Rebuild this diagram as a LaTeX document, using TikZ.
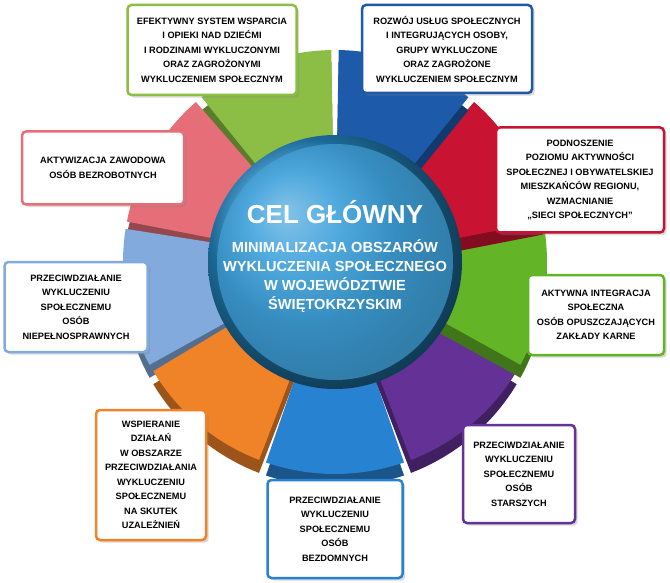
\documentclass[tikz,border=0pt]{standalone}
\usepackage{fontspec}
\setmainfont{Liberation Sans}
\usetikzlibrary{shadows,calc}
\definecolor{cgreen}{RGB}{140,190,70}
\definecolor{cblue}{RGB}{30,90,170}
\definecolor{cred}{RGB}{200,20,50}
\definecolor{cgreen2}{RGB}{100,180,40}
\definecolor{cpurple}{RGB}{100,50,150}
\definecolor{cblue2}{RGB}{40,130,210}
\definecolor{corange}{RGB}{240,130,40}
\definecolor{clblue}{RGB}{130,170,220}
\definecolor{cpink}{RGB}{230,110,120}
\definecolor{ccyan}{RGB}{40,150,215}
\begin{document}
\begin{tikzpicture}[x=1pt,y=-1pt,
  goal/.style={draw=#1,line width=2.5pt,fill=white,rounded corners=4pt,align=center,
    font=\bfseries\fontsize{9.2}{14.5}\selectfont,inner sep=3pt,drop shadow={opacity=0.3}}]
\useasboundingbox (0,0) rectangle (670,583);
\coordinate (c) at (335,262);
% sectors
\foreach \a/\col in {110/cgreen,150/cpink,190/clblue,230/corange,270/cblue2,310/cpurple,350/cgreen2,30/cred,70/cblue}{
  \fill[\col!65!black] (335,275) -- plot[domain=\a-19:\a+19,samples=20] ({335+212*cos(\x)},{275-212*sin(\x)}) -- cycle;
  \fill[\col] (c) -- plot[domain=\a-19:\a+19,samples=20] ({335+212*cos(\x)},{262-212*sin(\x)}) -- cycle;
}
% center
\shade[ball color=ccyan] (c) circle[radius=127];
\fill[ccyan!85!white,opacity=0.6] (c) circle[radius=118];
\node[font=\bfseries\fontsize{26}{30}\selectfont,text=white] (t1) at (335,212) {CEL GŁÓWNY};
\node[font=\bfseries\fontsize{14.6}{19}\selectfont,text=white,align=center] (t2) at (335,276)
 {MINIMALIZACJA OBSZARÓW\\WYKLUCZENIA SPOŁECZNEGO\\W WOJEWÓDZTWIE\\ŚWIĘTOKRZYSKIM};
% boxes
\node[goal=cgreen,minimum width=169pt,minimum height=90pt] (b1) at (212,50) {EFEKTYWNY SYSTEM WSPARCIA\\I OPIEKI NAD DZIEĆMI\\I RODZINAMI WYKLUCZONYMI\\ORAZ ZAGROŻONYMI\\WYKLUCZENIEM SPOŁECZNYM};
\node[goal=cblue,minimum width=170pt,minimum height=88pt] (b2) at (447,49) {ROZWÓJ USŁUG SPOŁECZNYCH\\I INTEGRUJĄCYCH OSOBY,\\GRUPY WYKLUCZONE\\ORAZ ZAGROŻONE\\WYKLUCZENIEM SPOŁECZNYM};
\node[goal=cred,minimum width=168pt,minimum height=105pt] (b3) at (580,180) {PODNOSZENIE\\POZIOMU AKTYWNOŚCI\\SPOŁECZNEJ I OBYWATELSKIEJ\\MIESZKAŃCÓW REGIONU,\\WZMACNIANIE\\„SIECI SPOŁECZNYCH”};
\node[goal=cgreen2,minimum width=136pt,minimum height=80pt] (b4) at (596,315) {AKTYWNA INTEGRACJA\\SPOŁECZNA\\OSÓB OPUSZCZAJĄCYCH\\ZAKŁADY KARNE};
\node[goal=cpurple,minimum width=112pt,minimum height=98pt] (b5) at (519,474) {PRZECIWDZIAŁANIE\\WYKLUCZENIU\\SPOŁECZNEMU\\OSÓB\\STARSZYCH};
\node[goal=cblue2,minimum width=135pt,minimum height=98pt] (b6) at (335,529) {PRZECIWDZIAŁANIE\\WYKLUCZENIU\\SPOŁECZNEMU\\OSÓB\\BEZDOMNYCH};
\node[goal=corange,minimum width=110pt,minimum height=130pt] (b7) at (151,475) {WSPIERANIE\\DZIAŁAŃ\\W OBSZARZE\\PRZECIWDZIAŁANIA\\WYKLUCZENIU\\SPOŁECZNEMU\\NA SKUTEK\\UZALEŻNIEŃ};
\node[goal=clblue,minimum width=143pt,minimum height=90pt] (b8) at (76,307) {PRZECIWDZIAŁANIE\\WYKLUCZENIU\\SPOŁECZNEMU\\OSÓB\\NIEPEŁNOSPRAWNYCH};
\node[goal=cpink,minimum width=162pt,minimum height=73pt] (b9) at (103,168) {AKTYWIZACJA ZAWODOWA\\OSÓB BEZROBOTNYCH};
\end{tikzpicture}
\end{document}
